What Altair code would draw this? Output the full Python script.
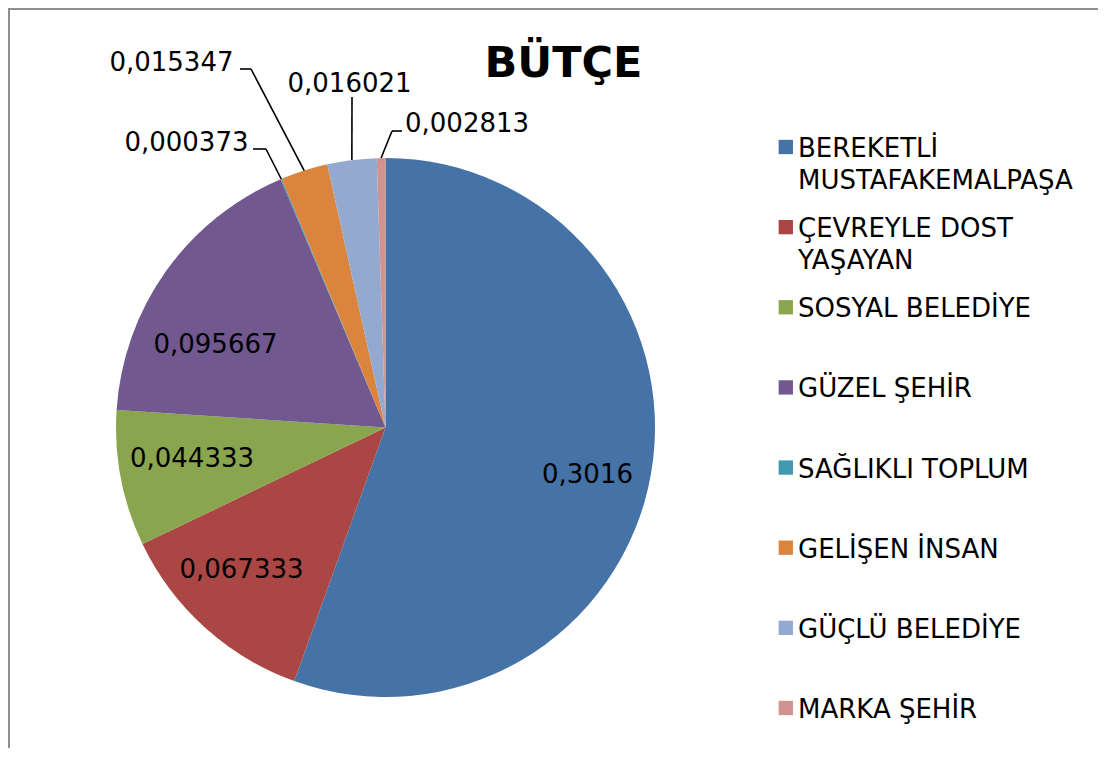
import textwrap
import pandas as pd
import altair as alt

# ---------------- data ----------------
categories = [
    "BEREKETLİ MUSTAFAKEMALPAŞA",
    "ÇEVREYLE DOST YAŞAYAN",
    "SOSYAL BELEDİYE",
    "GÜZEL ŞEHİR",
    "SAĞLIKLI TOPLUM",
    "GELİŞEN İNSAN",
    "GÜÇLÜ BELEDİYE",
    "MARKA ŞEHİR",
]
values = [0.3016, 0.067333, 0.044333, 0.095667, 0.000373, 0.015347, 0.016021, 0.002813]
colors = ["#4572A7", "#AA4643", "#89A54E", "#71588F", "#4198AF", "#DB843D", "#93A9CF", "#D19392"]
title_text = "BÜTÇE"

# ---------------- layout (reference pixel space) ----------------
W, H = 1090, 740
OX, OY = 8, 8
CX, CY, R = 385.5, 427.5, 269.5
FONT = "DejaVu Sans"
LABEL_FS = 26
LEGEND_FS = 26

# per-category label placement: kind, text x, text baseline y, elbow x, elbow y, end x, end y
label_layout = {
    "BEREKETLİ MUSTAFAKEMALPAŞA": ("center", 587.5, 483, None, None, None, None),
    "ÇEVREYLE DOST YAŞAYAN": ("center", 241.5, 578, None, None, None, None),
    "SOSYAL BELEDİYE": ("center", 192, 467, None, None, None, None),
    "GÜZEL ŞEHİR": ("center", 215.5, 353, None, None, None, None),
    "SAĞLIKLI TOPLUM": ("right", 248.5, 150.7, 266, 149, 253, 149),
    "GELİŞEN İNSAN": ("right", 233.5, 70.7, 251, 69, 240, 69),
    "GÜÇLÜ BELEDİYE": ("left", 287.5, 92, 352, 97, 352, 97),
    "MARKA ŞEHİR": ("left", 405, 131.7, 392, 131, 402, 131),
}

rows = []
for i, (c, v) in enumerate(zip(categories, values)):
    kind, tx, ty, bx, by, ex2, ey2 = label_layout[c]
    rows.append(dict(
        idx=i, cat=c, value=v,
        label=str(v).replace(".", ","),
        legend=textwrap.fill(c, width=16),
        kind=kind, tx=tx, ty=ty, bx=bx, by=by, lx=ex2, ly=ey2,
    ))
df = pd.DataFrame(rows)

xscale = alt.Scale(domain=[OX, OX + W], nice=False, zero=False)
yscale = alt.Scale(domain=[OY + H, OY], nice=False, zero=False)


def X(field, **kw):
    return alt.X(field, type="quantitative", scale=xscale, axis=None, **kw)


def Y(field, **kw):
    return alt.Y(field, type="quantitative", scale=yscale, axis=None, **kw)


color = alt.Color("cat:N", scale=alt.Scale(domain=categories, range=colors), legend=None)

base = alt.Chart(df)

pie = base.mark_arc(outerRadius=R).encode(
    theta=alt.Theta("value:Q", stack=True),
    color=color,
    order=alt.Order("idx:Q", sort="ascending"),
    x=alt.XDatum(CX, type="quantitative", scale=xscale, axis=None),
    y=alt.YDatum(CY, type="quantitative", scale=yscale, axis=None),
)

edges = base.transform_window(
    cum="sum(value)", sort=[alt.SortField("idx")], frame=[None, 0]
).transform_joinaggregate(
    total="sum(value)"
).transform_calculate(
    mid="(datum.cum - datum.value/2) / datum.total * 2 * PI",
    ex=f"{CX} + {R} * sin(datum.mid)",
    ey=f"{CY} - {R} * cos(datum.mid)",
).transform_filter("datum.kind != 'center'")

lead1 = edges.mark_rule(color="black", strokeWidth=1.6).encode(
    x=X("ex"), y=Y("ey"), x2="bx:Q", y2="by:Q"
)
lead2 = edges.mark_rule(color="black", strokeWidth=1.6).encode(
    x=X("bx"), y=Y("by"), x2="lx:Q", y2="ly:Q"
)


def labels(kind):
    return base.transform_filter(f"datum.kind == '{kind}'").mark_text(
        align=kind, baseline="alphabetic", font=FONT, fontSize=LABEL_FS, color="black"
    ).encode(x=X("tx"), y=Y("ty"), text="label:N")


leg = base.transform_calculate(
    ly0="147 + 80.14 * datum.idx", lyt="157 + 80.14 * datum.idx", lxs="785.8", lxt="798"
)
leg_sq = leg.mark_square(size=205, opacity=1).encode(
    x=X("lxs"), y=Y("ly0"), color=color
)
leg_txt = leg.mark_text(
    align="left", baseline="alphabetic", font=FONT, fontSize=LEGEND_FS,
    lineBreak="\n", lineHeight=31.5, color="black"
).encode(x=X("lxt"), y=Y("lyt"), text="legend:N")

title = alt.Chart(pd.DataFrame({"t": [title_text]})).transform_calculate(
    tx="563.5", ty="77"
).mark_text(
    align="center", baseline="alphabetic", font=FONT, fontSize=43, fontWeight="bold", color="black"
).encode(x=X("tx"), y=Y("ty"), text="t:N")

deco = alt.Chart(pd.DataFrame({"a": [0]}))
border_v = deco.mark_rule(color="#8e8e8e", strokeWidth=2).encode(
    x=alt.value(1), y=alt.value(0), y2=alt.value(H)
)
border_h = deco.mark_rule(color="#8e8e8e", strokeWidth=2).encode(
    x=alt.value(0), x2=alt.value(W), y=alt.value(1)
)

chart = alt.layer(
    pie, lead1, lead2,
    labels("center"), labels("right"), labels("left"),
    leg_sq, leg_txt, title, border_v, border_h,
).properties(
    width=W, height=H, padding=0, autosize="none", background="white"
).configure_view(stroke=None)

chart.save("out.html", embed_options={"renderer": "svg", "actions": False})
